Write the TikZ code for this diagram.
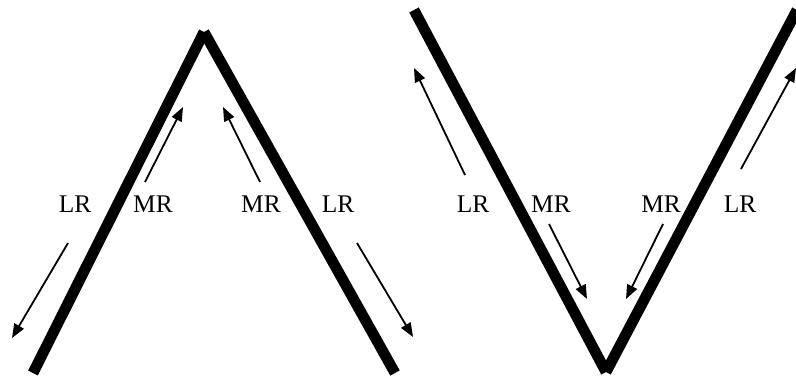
\documentclass[tikz,border=0pt]{standalone}
\usepackage{fontspec}
\setmainfont{Liberation Serif}
\usetikzlibrary{arrows.meta}
\begin{document}
\begin{tikzpicture}[>={Triangle[length=7pt,width=5.4pt]}, x=0.5pt, y=-0.5pt,
    wall/.style={line width=5.4pt, line cap=butt},
    flow/.style={->, line width=0.9pt},
    lab/.style={font=\fontsize{12.7}{15}\selectfont, inner sep=0pt}]
    \useasboundingbox (0,0) rectangle (796,379);
    % ridge (left)
    \coordinate (rL) at (33,373);
    \coordinate (rT) at (204,32);
    \coordinate (rR) at (395,373);
    % valley (right)
    \coordinate (vL) at (414,10);
    \coordinate (vB) at (606,372);
    \coordinate (vR) at (797,10);
    \foreach \a/\b in {rL/rT, rR/rT, vL/vB, vR/vB} \draw[wall] (\a) -- (\b);
    % labels
    \node[lab] (lr1) at (75,204) {LR};
    \node[lab] (mr1) at (153,204) {MR};
    \node[lab] (mr2) at (261,204) {MR};
    \node[lab] (lr2) at (338,204) {LR};
    \node[lab] (lr3) at (473,204) {LR};
    \node[lab] (mr3) at (551,204) {MR};
    \node[lab] (mr4) at (661,204) {MR};
    \node[lab] (lr4) at (740,204) {LR};
    % arrow ends
    \coordinate (a1) at (68,243);   \coordinate (b1) at (12,338);
    \coordinate (a2) at (145,182);  \coordinate (b2) at (183,107);
    \coordinate (a3) at (260,182);  \coordinate (b3) at (223,107);
    \coordinate (a4) at (357,243);  \coordinate (b4) at (413,337);
    \coordinate (a5) at (465,175);  \coordinate (b5) at (414,68);
    \coordinate (a6) at (549,224);  \coordinate (b6) at (587,299);
    \coordinate (a7) at (663,224);  \coordinate (b7) at (626,299);
    \coordinate (a8) at (741,169);  \coordinate (b8) at (796,68);
    \foreach \i in {1,...,8} \draw[flow] (a\i) -- (b\i);
\end{tikzpicture}
\end{document}
